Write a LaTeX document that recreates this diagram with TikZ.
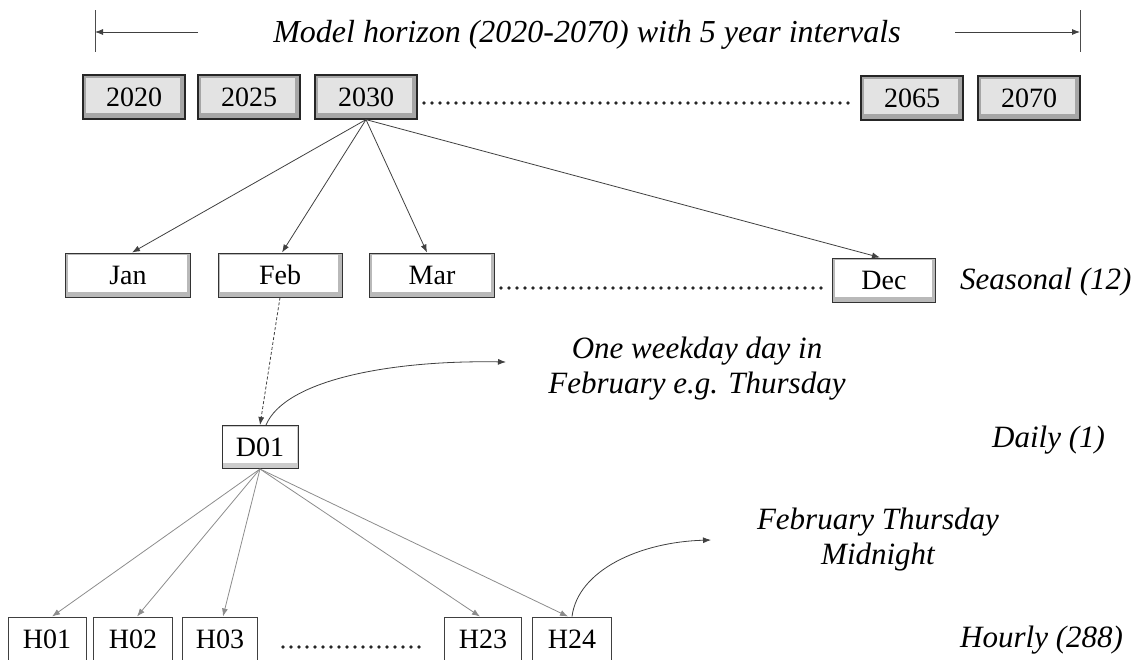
\documentclass[tikz,border=0pt]{standalone}
\usepackage{fontspec}
\setmainfont{Liberation Serif}
\usetikzlibrary{arrows.meta}
\begin{document}
\begin{tikzpicture}[x=1pt,y=-1pt,
  lbl/.style={font=\fontsize{28}{30}\selectfont, inner sep=0pt, text height=19pt, text depth=0pt},
  note/.style={font=\fontsize{31}{35}\selectfont\itshape, inner sep=0pt, align=center},
  topbox/.style={lbl, draw=black!85, line width=1.2pt, fill=gray!70, minimum width=102pt, minimum height=44pt,
    path picture={\fill[gray!22] ([shift={(3pt,-3pt)}]path picture bounding box.north west) rectangle ([shift={(-5pt,6pt)}]path picture bounding box.south east);}},
  monbox/.style={lbl, draw=black!80, line width=1pt, fill=gray!55, minimum height=44pt,
    path picture={\fill[white] ([shift={(2pt,-2pt)}]path picture bounding box.north west) rectangle ([shift={(-4pt,5pt)}]path picture bounding box.south east);}},
  dbox/.style={lbl, draw=black!80, line width=1pt, fill=gray!40, minimum width=76pt, minimum height=43pt,
    path picture={\fill[white] ([shift={(1pt,-1pt)}]path picture bounding box.north west) rectangle ([shift={(-1pt,6pt)}]path picture bounding box.south east);}},
  hbox/.style={lbl, draw=black!75, line width=1pt, fill=white, minimum height=44pt},
  arr/.style={-{Latex[length=8pt,width=6pt]}, line width=0.8pt, draw=black!75},
  garr/.style={-{Latex[length=8pt,width=6pt]}, line width=0.8pt, draw=black!45},
  dotline/.style={line width=3.8pt, line cap=round, dash pattern=on 0pt off 8pt, draw=black!85}
]
\useasboundingbox (0,0) rectangle (1143,659);
\clip (0,0) rectangle (1143,659);

% top horizon
\node[note, font=\fontsize{32}{36}\selectfont\itshape] (title) at (587,35) {Model horizon (2020-2070) with 5 year intervals};
\coordinate (lbar1) at (95,10);
\coordinate (lbar2) at (95,52);
\coordinate (rbar1) at (1080,10);
\coordinate (rbar2) at (1080,52);
\coordinate (lstart) at (198,32);
\coordinate (lend) at (95,32);
\coordinate (rstart) at (955,32);
\coordinate (rend) at (1080,32);
\draw[line width=0.9pt, black!70] (lbar1) -- (lbar2);
\draw[line width=0.9pt, black!70] (rbar1) -- (rbar2);
\draw[arr] (lstart) -- (lend);
\draw[arr] (rstart) -- (rend);

% years
\node[topbox] (y2020) at (134,97) {2020};
\node[topbox] (y2025) at (249,97) {2025};
\node[topbox] (y2030) at (366,97) {2030};
\node[topbox] (y2065) at (912,98) {2065};
\node[topbox] (y2070) at (1029,98) {2070};
\coordinate (d1a) at (424,103);
\coordinate (d1b) at (853,103);
\draw[dotline] (d1a) -- (d1b);

% months
\node[monbox, minimum width=125pt] (jan) at (128,275) {Jan};
\node[monbox, minimum width=124pt] (feb) at (280,275) {Feb};
\node[monbox, minimum width=125pt] (mar) at (432,275) {Mar};
\node[monbox, minimum width=103pt] (dec) at (884,280) {Dec};
\node[note, anchor=west] (seas) at (960,282) {Seasonal (12)};
\coordinate (d2a) at (501,288);
\coordinate (d2b) at (824,288);
\draw[dotline] (d2a) -- (d2b);

\draw[arr] (y2030.south) -- ([xshift=4pt]jan.north);
\draw[arr] (y2030.south) -- ([xshift=2pt]feb.north);
\draw[arr] (y2030.south) -- ([xshift=-5pt]mar.north);
\draw[arr] (y2030.south) -- ([xshift=-4pt]dec.north);

% daily
\node[dbox] (d01) at (260,447) {D01};
\node[note, anchor=west] (daily) at (992,440) {Daily (1)};
\node[note] (wk) at (697,369) {One weekday day in\\February e.g. Thursday};
\coordinate (wktip) at (506,362);
\draw[arr, dashed, dash pattern=on 3pt off 2pt] (feb.south) -- (d01.north);
\draw[arr] ([xshift=6pt]d01.north) .. controls (285,380) and (390,360) .. (wktip);

% hourly
\node[hbox, minimum width=78pt] (h01) at (47,639) {H01};
\node[hbox, minimum width=79pt] (h02) at (133,639) {H02};
\node[hbox, minimum width=75pt] (h03) at (220,639) {H03};
\node[hbox, minimum width=77pt] (h23) at (483,639) {H23};
\node[hbox, minimum width=79pt] (h24) at (572,639) {H24};
\coordinate (d3a) at (283,647);
\coordinate (d3b) at (424,647);
\draw[dotline] (d3a) -- (d3b);
\node[note, anchor=west] (hourly) at (960,640) {Hourly (288)};
\node[note] (mid) at (878,540) {February Thursday\\Midnight};
\coordinate (midtip) at (711,540);

\draw[garr] (d01.south) -- ([xshift=5pt]h01.north);
\draw[garr] (d01.south) -- ([xshift=4pt]h02.north);
\draw[garr] (d01.south) -- ([xshift=3pt]h03.north);
\draw[garr] (d01.south) -- ([xshift=-3pt]h23.north);
\draw[garr] (d01.south) -- ([xshift=-4pt]h24.north);
\draw[arr] (h24.north) .. controls (578,570) and (640,542) .. (midtip);
\end{tikzpicture}
\end{document}
